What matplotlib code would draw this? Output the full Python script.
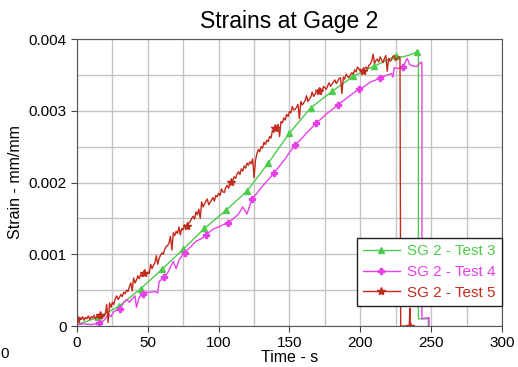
import numpy as np
import matplotlib.pyplot as plt

plt.rcParams['font.family'] = ['Liberation Sans', 'DejaVu Sans']

# Test 3 (green) - time (s) and strain (mm/mm x 1e-3)
t3 = [0, 15, 30, 45, 60, 75, 90, 105, 120, 135, 150, 165, 180, 195, 207, 210,
      218, 225, 230, 235, 240, 241, 241, 248, 248]
e3 = [0.02, 0.12, 0.28, 0.52, 0.79, 1.07, 1.36, 1.61, 1.88, 2.27, 2.69, 3.04,
      3.27, 3.48, 3.60, 3.62, 3.70, 3.76, 3.75, 3.78, 3.82, 3.80, 0.10, 0.10, 0.0]
mk3 = [15, 30, 45, 60, 75, 90, 105, 120, 135, 150, 165, 180, 195, 210, 225, 240]

# Test 4 (magenta)
t4 = [0, 5, 10, 15.5, 18, 20, 22, 24, 26, 28, 30.5, 33, 35, 37, 39, 41, 42, 44,
      46.5, 49, 52, 55, 57, 58, 61.5, 64, 66, 68, 70, 72, 76, 80, 84, 88, 91, 94,
      97, 100, 103, 106.5, 110, 114, 117, 120, 123.5, 127, 131, 135, 139, 143,
      147, 150, 154, 158, 162, 166, 169, 173, 177, 181, 184, 188, 192, 196, 199,
      203, 207, 210, 214, 218, 222, 223, 224, 227, 230, 233, 235, 238, 240, 243,
      243.5, 243.5, 248.5, 248.5, 249]
e4 = [0.02, 0.03, 0.02, 0.04, 0.06, 0.10, 0.16, 0.13, 0.20, 0.22, 0.24, 0.33,
      0.37, 0.33, 0.38, 0.42, 0.26, 0.40, 0.45, 0.47, 0.47, 0.48, 0.46, 0.62,
      0.68, 0.74, 0.82, 0.90, 0.80, 0.92, 1.02, 1.10, 1.18, 1.22, 1.27, 1.32,
      1.36, 1.38, 1.41, 1.44, 1.49, 1.56, 1.66, 1.56, 1.77, 1.85, 1.95, 2.04,
      2.13, 2.23, 2.33, 2.42, 2.52, 2.60, 2.69, 2.77, 2.83, 2.90, 2.97, 3.03,
      3.08, 3.14, 3.20, 3.26, 3.30, 3.34, 3.40, 3.42, 3.46, 3.49, 3.52, 3.47,
      3.60, 3.59, 3.61, 3.73, 3.64, 3.62, 3.62, 3.68, 3.66, 0.10, 0.12, -0.06,
      -0.06]
mk4 = [15.5, 30.5, 46.5, 61.5, 76, 91, 106.5, 123.5, 139, 154, 169, 184, 199,
       214, 230]

# Test 5 (red, noisy) - one reading per second up to 228 s, then the drop
t5 = list(range(0, 229)) + [228.5, 234.5, 235, 235.2]
e5 = [0.10, 0.06, 0.12, 0.09, 0.13, 0.08, 0.12, 0.10, 0.14, 0.09,
      0.13, 0.11, 0.15, 0.10, 0.14, 0.12, 0.16, 0.11, 0.15, 0.13,
      0.17, 0.30, 0.05, 0.32, 0.26, 0.33, 0.30, 0.38, 0.42, 0.37,
      0.40, 0.44, 0.41, 0.47, 0.45, 0.50, 0.48, 0.55, 0.60, 0.49,
      0.67, 0.60, 0.64, 0.70, 0.66, 0.72, 0.69, 0.74, 0.78, 0.71,
      0.75, 0.73, 0.86, 0.80, 0.85, 0.88, 0.98, 0.86, 0.94, 0.99,
      1.02, 1.00, 1.07, 1.11, 1.12, 1.16, 1.25, 1.06, 1.30, 1.26,
      1.32, 1.29, 1.38, 1.27, 1.36, 1.34, 1.41, 1.37, 1.39, 1.44,
      1.46, 1.50, 1.53, 1.49, 1.59, 1.55, 1.63, 1.50, 1.73, 1.66,
      1.70, 1.74, 1.77, 1.69, 1.72, 1.76, 1.79, 1.74, 1.82, 1.80,
      1.85, 1.82, 1.91, 1.87, 1.86, 1.93, 1.96, 1.92, 1.99, 2.01,
      2.03, 2.08, 2.06, 2.12, 2.15, 2.11, 2.19, 2.16, 2.23, 2.20,
      2.27, 2.24, 2.29, 2.26, 2.33, 2.07, 2.31, 2.40, 2.46, 2.43,
      2.50, 2.48, 2.56, 2.53, 2.59, 2.57, 2.64, 2.62, 2.73, 2.70,
      2.76, 2.74, 2.81, 2.64, 2.85, 2.83, 2.90, 2.87, 2.95, 2.92,
      2.99, 2.97, 3.06, 3.01, 3.02, 3.05, 3.09, 2.89, 3.13, 3.08,
      3.11, 3.14, 3.21, 3.13, 3.16, 3.19, 3.26, 3.20, 3.23, 3.27,
      3.29, 3.28, 3.31, 3.27, 3.34, 3.32, 3.30, 3.35, 3.39, 3.34,
      3.37, 3.40, 3.43, 3.38, 3.41, 3.45, 3.46, 3.24, 3.47, 3.44,
      3.51, 3.48, 3.46, 3.50, 3.53, 3.51, 3.57, 3.54, 3.61, 3.58,
      3.58, 3.56, 3.55, 3.59, 3.61, 3.58, 3.63, 3.65, 3.69, 3.79,
      3.66, 3.70, 3.72, 3.68, 3.75, 3.71, 3.67, 3.73, 3.77, 3.55,
      3.73, 3.69, 3.71, 3.76, 3.77, 3.70, 3.73, 3.75, 3.74,
      0.0, 0.0, 0.25, 0.0]
mk5 = [0, 16, 47, 78, 109, 140, 171, 202, 235.2]

green = '#4ccb4c'
magenta = '#e840e8'
red = '#c42a1c'

fig = plt.figure(figsize=(5.18, 3.67), dpi=100)
ax = fig.add_axes([0.1486, 0.1117, 0.8205, 0.782])

def idx(t, marks):
    return [t.index(m) for m in marks]

ax.plot(t3, np.array(e3) * 1e-3, color=green, lw=1, marker='^', ms=5,
        markevery=idx(t3, mk3), label='SG 2 - Test 3')
ax.plot(t4, np.array(e4) * 1e-3, color=magenta, lw=1, marker='P', ms=5,
        markevery=idx(t4, mk4), label='SG 2 - Test 4')
ax.plot(t5, np.array(e5) * 1e-3, color=red, lw=1, marker='*', ms=6,
        markevery=idx(t5, mk5), label='SG 2 - Test 5')

ax.set_xlim(0, 300)
ax.set_ylim(0, 0.004)
ax.set_xticks([0, 50, 100, 150, 200, 250, 300])
ax.set_xticks(np.arange(0, 301, 25), minor=True)
ax.set_yticks([0, 0.001, 0.002, 0.003, 0.004])
ax.set_yticklabels(['0', '0.001', '0.002', '0.003', '0.004'])
ax.set_yticks(np.arange(0, 0.0041, 0.0005), minor=True)
ax.grid(which='both', color='#c4c4c4', lw=1)
ax.set_axisbelow(True)
ax.tick_params(labelsize=11, length=4, color='#444444')
ax.tick_params(which='minor', length=0)
for s in ax.spines.values():
    s.set_color('#555555')

ax.set_title('Strains at Gage 2', fontsize=16.5, pad=8)
ax.set_xlabel('Time - s', fontsize=11.5, labelpad=0)
ax.set_ylabel('Strain - mm/mm', fontsize=11.5, labelpad=4)

leg = ax.legend(loc='lower right', bbox_to_anchor=(1.0, 0.07), fontsize=11,
                handlelength=2.4, handletextpad=0.5, fancybox=False,
                framealpha=1, edgecolor='#222222', borderpad=0.4,
                labelspacing=0.45, borderaxespad=0)
for txt, c in zip(leg.get_texts(), [green, magenta, red]):
    txt.set_color(c)

fig.text(0.0, 0.025, '0', fontsize=11)

fig.savefig('out.png', dpi=100)
